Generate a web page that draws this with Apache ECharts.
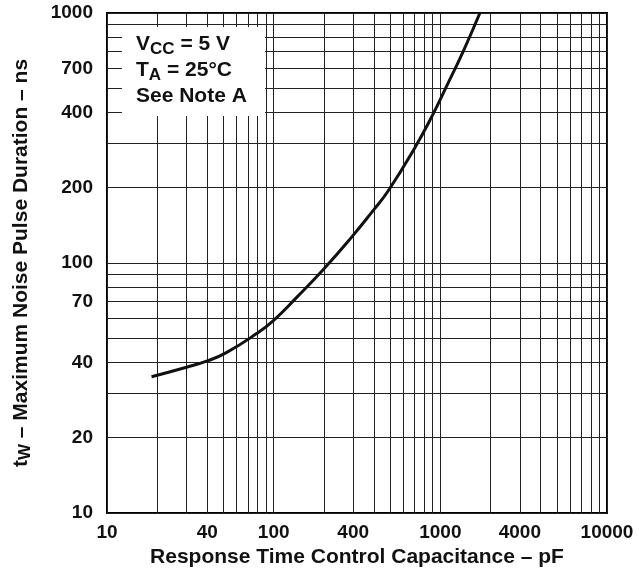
<!DOCTYPE html>
<html><head><meta charset="utf-8">
<script src="https://cdn.jsdelivr.net/npm/echarts@6/dist/echarts.min.js"></script>
<style>html,body{margin:0;padding:0;background:#fff}#c{width:639px;height:582px}</style>
</head><body><div id="c"></div>
<script>
// Curve: response time control capacitance (pF) vs max noise pulse duration (ns)
const capacitance   = [18.5, 30, 40, 52, 79, 100, 137, 198, 287, 396, 487, 705, 906, 1091, 1372, 1728];
const pulseDuration = [35.1, 38.3, 40.6, 43.8, 52.2, 59.0, 72.7, 94.0, 124.6, 162.4, 194.5, 290, 395, 510, 703, 1000];

// Log grid lines (1..9 per decade)
const xGridValues = [10,20,30,40,50,60,70,80,90,100,200,300,400,500,600,700,800,900,1000,2000,3000,4000,5000,6000,7000,8000,9000,10000];
const yGridValues = [10,20,30,40,50,60,70,80,90,100,200,300,400,500,600,700,800,900,1000];

// Tick labels and the grid value they sit under in the reference
const xTickLabels  = ['10','40','100','400','1000','4000','10000'];
const xTickLabelAt = [10, 40, 100, 300, 1000, 3000, 10000];
const yTickLabels  = ['10','20','40','70','100','200','400','700','1000'];
const yTickLabelAt = [10, 20, 40, 70, 100, 200, 400, 600, 1000];

const FONT = "'Liberation Sans', Arial, Helvetica, sans-serif";
const lookup = (at, labels) => v => {
  const i = at.findIndex(a => Math.abs(a - v) / a < 1e-6);
  return i >= 0 ? labels[i] : '';
};

const chart = echarts.init(document.getElementById('c'), null, {renderer: 'canvas'});
const gridStyle = {color: '#222', width: 1};
chart.setOption({
  animation: false,
  backgroundColor: '#fff',
  grid: {left: 107, right: 32, top: 13, bottom: 69, show: true, borderColor: '#000', borderWidth: 2, containLabel: false},
  xAxis: {
    type: 'log', logBase: 10, min: 10, max: 10000,
    axisLine: {show: false},
    axisTick: {show: false, customValues: xGridValues},
    splitLine: {show: true, lineStyle: gridStyle},
    axisLabel: {customValues: xTickLabelAt, formatter: lookup(xTickLabelAt, xTickLabels), margin: 10,
      color: '#111', fontFamily: FONT, fontWeight: 'bold', fontSize: 19, showMinLabel: true, showMaxLabel: true},
    name: 'Response Time Control Capacitance – pF', nameLocation: 'middle', nameGap: 33,
    nameTextStyle: {color: '#111', fontFamily: FONT, fontWeight: 'bold', fontSize: 21}
  },
  yAxis: {
    type: 'log', logBase: 10, min: 10, max: 1000,
    axisLine: {show: false},
    axisTick: {show: false, customValues: yGridValues},
    splitLine: {show: true, lineStyle: gridStyle},
    axisLabel: {customValues: yTickLabelAt, formatter: lookup(yTickLabelAt, yTickLabels), margin: 14,
      color: '#111', fontFamily: FONT, fontWeight: 'bold', fontSize: 19, showMinLabel: true, showMaxLabel: true},
    name: '{m|t}{s|W}{m| – Maximum Noise Pulse Duration – ns}', nameLocation: 'middle', nameGap: 73, nameRotate: 90,
    nameTextStyle: {color: '#111', fontFamily: FONT, fontWeight: 'bold', fontSize: 21,
      rich: {
        m: {color: '#111', fontFamily: FONT, fontWeight: 'bold', fontSize: 21, lineHeight: 26},
        s: {color: '#111', fontFamily: FONT, fontWeight: 'bold', fontSize: 17, lineHeight: 14, verticalAlign: 'bottom'}
      }}
  },
  series: [{
    type: 'line',
    data: capacitance.map((c, i) => [c, pulseDuration[i]]),
    smooth: true,
    showSymbol: false,
    lineStyle: {color: '#111', width: 3},
    z: 5
  }],
  graphic: [
    {type: 'rect', left: 122, top: 27, z: 50, shape: {width: 143, height: 89}, style: {fill: '#fff'}},
    {type: 'text', left: 136, top: 34, z: 51, style: {
      text: '{m|V}{s|CC}{m| = 5 V}\n{m|T}{s|A}{m| = 25°C}\n{m|See Note A}',
      rich: {
        m: {fill: '#111', fontFamily: FONT, fontWeight: 'bold', fontSize: 21, lineHeight: 26},
        s: {fill: '#111', fontFamily: FONT, fontWeight: 'bold', fontSize: 17, lineHeight: 14, verticalAlign: 'bottom'}
      }
    }}
  ]
});
</script>
</body></html>
